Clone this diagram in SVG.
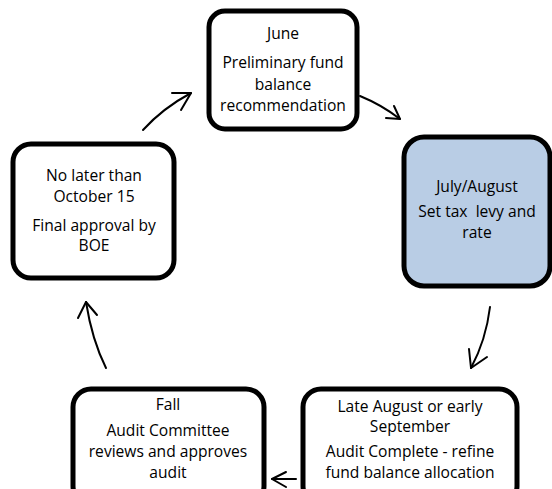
<svg xmlns="http://www.w3.org/2000/svg" width="552" height="489" viewBox="0 0 552 489">
<style>
.box{fill:#fff;stroke:#000;stroke-width:5}
.blue{fill:#b9cde5}
.t{font-family:"Open Sans","Noto Sans",sans-serif;font-size:15.6px;fill:#000;text-anchor:middle;white-space:pre}
.c{fill:none;stroke:#000;stroke-width:2;stroke-linecap:round;stroke-linejoin:round}
</style>
<rect width="552" height="489" fill="#fff"/>
<g id="june">
<rect class="box" x="209" y="11" width="148" height="118" rx="16"/>
<text class="t" x="283" y="39">June</text>
<text class="t" x="283" y="68">Preliminary fund</text>
<text class="t" x="283" y="90">balance</text>
<text class="t" x="283" y="111">recommendation</text>
</g>
<g id="julyaug">
<rect class="box blue" x="404" y="137" width="146" height="149" rx="20"/>
<text class="t" x="477" y="192">July/August</text>
<text class="t" x="477" y="217">Set tax  levy and</text>
<text class="t" x="477" y="238">rate</text>
</g>
<g id="lateaug">
<rect class="box" x="303" y="389" width="214" height="115" rx="18"/>
<text class="t" x="410" y="412">Late August or early</text>
<text class="t" x="410" y="432">September</text>
<text class="t" x="410" y="457">Audit Complete - refine</text>
<text class="t" x="410" y="478">fund balance allocation</text>
</g>
<g id="fall">
<rect class="box" x="73" y="389" width="191" height="115" rx="18"/>
<text class="t" x="168" y="410">Fall</text>
<text class="t" x="168" y="436">Audit Committee</text>
<text class="t" x="168" y="457">reviews and approves</text>
<text class="t" x="168" y="478">audit</text>
</g>
<g id="oct">
<rect class="box" x="13" y="144" width="161" height="134" rx="18"/>
<text class="t" x="94" y="181">No later than</text>
<text class="t" x="94" y="202">October 15</text>
<text class="t" x="94" y="231">Final approval by</text>
<text class="t" x="94" y="251">BOE</text>
</g>
<g id="connectors">
<path class="c" d="M360,96 Q382,105 400,119"/>
<path class="c" d="M386,118 L400,119 L394,106"/>
<path class="c" d="M490,307 Q486,340 471,368"/>
<path class="c" d="M469,349 L471,368 L487,357"/>
<path class="c" d="M296,479 L272,479"/>
<path class="c" d="M286,472 L272,479 L286,487"/>
<path class="c" d="M106,368 Q92,340 86,302"/>
<path class="c" d="M78,318 L86,302 L97,315"/>
<path class="c" d="M143,130 Q163,108 191,93"/>
<path class="c" d="M172,93 L191,93 L181,110"/>
</g>
</svg>
